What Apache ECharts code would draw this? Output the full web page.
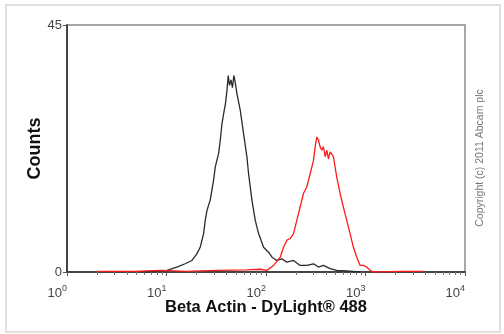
<!DOCTYPE html>
<html>
<head>
<meta charset="utf-8">
<script src="https://cdn.jsdelivr.net/npm/echarts@6/dist/echarts.min.js"></script>
<style>
  html, body { margin: 0; padding: 0; background: #fff; }
  #chart { width: 504px; height: 334px; }
</style>
</head>
<body>
<div id="chart"></div>
<script>
// fluorescence values (log axis) and counts
const blackX = [5.9, 10.1, 12.7, 15.4, 18.0, 20.2, 21.8, 23.6, 24.5, 25.5, 27.5, 29.7, 30.9, 33.4, 34.7, 36.1, 37.5, 39.0, 40.5, 41.7, 43.0, 44.5, 46.0, 47.5, 49.0, 51.0, 53.0, 55.1, 59.5, 64.3, 66.8, 72.2, 78.0, 84.2, 94.5, 106, 115, 128, 144, 162, 189, 220, 257, 300, 337, 378, 441, 514, 648, 883]
const blackY = [0.0, 0.3, 0.9, 1.5, 2.1, 3.3, 4.5, 7.0, 9.4, 11.2, 13.1, 16.7, 19.1, 21.6, 24.0, 27.0, 28.8, 30.5, 33.0, 35.8, 34.0, 35.0, 33.6, 35.8, 34.6, 32.5, 31.0, 29.5, 25.2, 21.0, 17.9, 13.1, 9.4, 7.0, 4.5, 3.6, 2.7, 2.1, 2.4, 1.8, 2.1, 1.2, 1.2, 1.5, 0.9, 1.2, 0.6, 0.3, 0.2, 0.0]

const redX = [2.0, 4.7, 8.7, 16.0, 32, 64, 87, 102, 119, 139, 150, 162, 175, 189, 204, 220, 238, 257, 278, 300, 312, 324, 337, 350, 364, 378, 393, 408, 424, 441, 458, 476, 514, 556, 600, 648, 700, 756, 817, 883, 953, 1030, 1112, 1202, 2240, 3800]
const redY = [0.1, 0.1, 0.3, 0.1, 0.3, 0.4, 0.5, 0.3, 1.2, 2.7, 4.5, 5.8, 6.1, 7.0, 9.4, 11.8, 14.3, 15.5, 17.9, 20.3, 22.8, 24.6, 24.0, 22.8, 22.2, 22.8, 21.0, 22.2, 20.6, 21.9, 22.2, 21.0, 17.3, 14.3, 11.8, 9.4, 7.0, 4.5, 2.7, 1.2, 1.2, 0.9, 0.3, 0.0, 0.1, 0.1]

const decadeTicks = [1, 10, 100, 1000, 10000]
const minorTicks = [2, 3, 4, 5, 6, 7, 8, 9, 20, 30, 40, 50, 60, 70, 80, 90, 200, 300, 400, 500, 600, 700, 800, 900, 2000, 3000, 4000, 5000, 6000, 7000, 8000, 9000]
const yTicks = [0, 45]

const chart = echarts.init(document.getElementById('chart'))

const pairs = (xs, ys) => xs.map((x, i) => [x, ys[i]])

const option = {
  animation: false,
  backgroundColor: '#fff',
  grid: {
    left: 67, right: 39, top: 25, bottom: 62,
    show: true, borderColor: '#8a8a8a', borderWidth: 1.5
  },
  graphic: [
    {
      type: 'rect', silent: true, z: -1,
      shape: { x: 6, y: 5, width: 494, height: 327 },
      style: { fill: 'none', stroke: '#e0e0e0', lineWidth: 2 }
    },
    {
      type: 'text', silent: true,
      x: 480, y: 158, rotation: Math.PI / 2,
      style: {
        text: 'Copyright (c) 2011 Abcam plc',
        fontFamily: 'Liberation Sans', fontSize: 10.5, fill: '#777',
        align: 'center', verticalAlign: 'middle'
      }
    }
  ],
  xAxis: [
    {
      type: 'log', logBase: 10, min: 1, max: 10000,
      name: 'Beta Actin - DyLight® 488',
      nameLocation: 'middle', nameGap: 27, nameMoveOverlap: false,
      nameTextStyle: { fontFamily: 'Liberation Sans', fontSize: 16.5, fontWeight: 'bold', color: '#111' },
      axisLine: { lineStyle: { color: '#444', width: 2 } },
      axisTick: { show: true, length: 4, customValues: decadeTicks, lineStyle: { color: '#555' } },
      splitLine: { show: false },
      axisLabel: {
        customValues: decadeTicks,
        align: 'right', margin: 13,
        formatter: v => '{b|10}{s|' + Math.round(Math.log10(v)) + '}',
        rich: {
          b: { fontFamily: 'Liberation Sans', fontSize: 13, color: '#444', lineHeight: 16 },
          s: { fontFamily: 'Liberation Sans', fontSize: 9, color: '#444', lineHeight: 16, padding: [0, 0, 8, 0] }
        }
      }
    },
    {
      type: 'log', logBase: 10, min: 1, max: 10000, position: 'bottom',
      axisLine: { show: false },
      axisTick: { show: true, length: 3, customValues: minorTicks, lineStyle: { color: '#777' } },
      axisLabel: { show: false },
      splitLine: { show: false }
    }
  ],
  yAxis: {
    type: 'value', min: 0, max: 45, interval: 45,
    name: 'Counts', nameLocation: 'middle', nameGap: 23, nameMoveOverlap: false,
    nameTextStyle: { fontFamily: 'Liberation Sans', fontSize: 18, fontWeight: 'bold', color: '#111' },
    axisLine: { show: true, lineStyle: { color: '#444', width: 2 } },
    axisTick: { show: true, length: 4, lineStyle: { color: '#555' } },
    splitLine: { show: false },
    axisLabel: {
      customValues: yTicks, margin: 5,
      fontFamily: 'Liberation Sans', fontSize: 13, color: '#444'
    }
  },
  series: [
    {
      name: 'control', type: 'line', symbol: 'none',
      lineStyle: { color: '#2a2a2a', width: 1.3 },
      data: pairs(blackX, blackY)
    },
    {
      name: 'beta actin', type: 'line', symbol: 'none',
      lineStyle: { color: '#ff1a1a', width: 1.3 },
      data: pairs(redX, redY)
    }
  ]
}

chart.setOption(option)
</script>
</body>
</html>
